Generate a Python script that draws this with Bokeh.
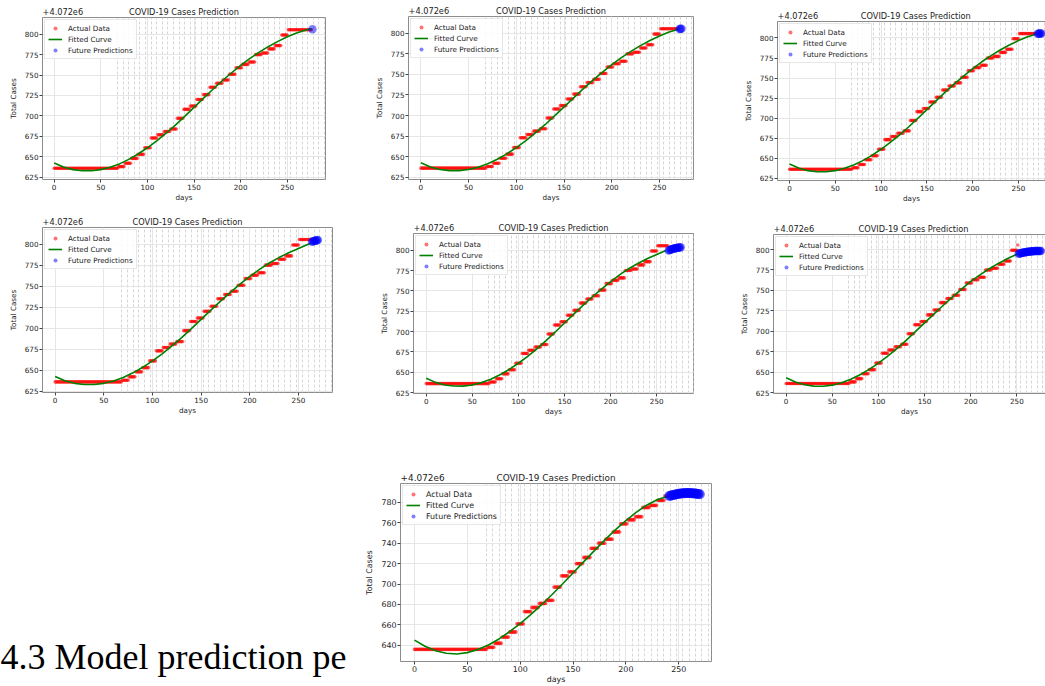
import bisect
from bokeh.plotting import figure
from bokeh.layouts import row, column
from bokeh.models import FixedTicker, Label, LinearAxis, Range1d, CustomJSTickFormatter
from bokeh.embed import file_html
from bokeh.resources import INLINE

PLOT_TITLE = "COVID-19 Cases Prediction"
X_LABEL = "days"
Y_LABEL = "Total Cases"
OFFSET_TEXT = "+4.072e6"
CAPTION = "4.3 Model prediction pe"

x_tick_days = [0, 50, 100, 150, 200, 250]
y_ticks_small = [625, 650, 675, 700, 725, 750, 775, 800]
y_ticks_large = [640, 660, 680, 700, 720, 740, 760, 780]

# total cases minus 4,072,000 (weekly reporting steps)
step_start_days = [0, 69, 76, 83, 90, 97, 104, 111, 118, 125, 132, 139, 146, 153,
                   160, 167, 174, 181, 188, 195, 202, 209, 216, 223, 230, 237, 244, 251]
step_values = [636, 638, 642, 648, 653, 661, 673, 677, 681, 684, 697, 708, 712, 720,
               726, 735, 740, 744, 751, 759, 763, 766, 775, 777, 782, 786, 799, 805.5]

# last training day of each of the seven panels
train_end_day = [276, 270, 270, 263, 262, 251, 240]

fit_days_a = [0, 10, 20, 30, 40, 50, 60, 70, 80, 90, 100, 110, 120, 130, 140, 150, 160,
              170, 180, 190, 200, 210, 220, 230, 240, 250, 260, 270, 276]
fit_vals_a = [642.5, 637.5, 634.3, 633.0, 633.0, 634.3, 637.2, 641.3, 646.8, 653.4, 661.0,
              669.5, 678.8, 688.8, 699.5, 710.5, 721.5, 732.3, 742.7, 752.5, 761.8, 770.3,
              778.0, 785.0, 791.2, 796.8, 801.5, 805.0, 806.5]

fit_days_m = [0, 10, 20, 30, 40, 50, 60, 70, 80, 90, 100, 110, 120, 130, 140, 150, 160,
              170, 180, 190, 200, 210, 220, 230, 240, 250, 260, 263]
fit_vals_m = [642.5, 637.5, 634.3, 633.0, 632.9, 634.3, 637.2, 641.3, 646.8, 653.4, 661.0,
              669.5, 678.8, 688.8, 699.5, 710.5, 721.5, 732.2, 742.5, 752.3, 761.5, 770.0,
              777.5, 784.0, 789.8, 794.8, 799.8, 801.0]

fit_days_b = [0, 10, 20, 30, 40, 50, 60, 70, 80, 90, 100, 110, 120, 130, 140, 150, 160,
              170, 180, 190, 200, 210, 220, 230, 240, 250, 251]
fit_vals_b = [643.0, 638.0, 634.5, 632.8, 632.6, 634.0, 637.0, 641.2, 646.7, 653.3, 661.0,
              669.5, 678.8, 688.8, 699.5, 710.3, 721.0, 731.5, 741.7, 751.5, 761.0, 769.0,
              776.5, 783.0, 789.0, 794.2, 794.6]

fit_days_c = [0, 10, 20, 30, 40, 50, 60, 70, 80, 90, 100, 110, 120, 130, 140, 150, 160,
              170, 180, 190, 200, 210, 220, 230, 240]
fit_vals_c = [645.0, 639.0, 634.7, 632.2, 631.5, 632.8, 635.8, 640.3, 646.2, 653.3, 661.3,
              670.0, 679.5, 689.5, 700.0, 710.8, 721.7, 732.5, 743.0, 753.0, 762.2, 770.5,
              777.5, 782.8, 786.0]

pred_days_1 = [277]
pred_vals_1 = [806.0]
pred_days_2 = [271, 272, 273]
pred_vals_2 = [805.3, 805.4, 805.5]
pred_days_3 = [271, 272, 273, 274, 275]
pred_vals_3 = [805.3, 805.4, 805.5, 805.6, 805.6]
pred_days_4 = [264, 265, 266, 267, 268, 269, 270]
pred_vals_4 = [802.8, 803.3, 803.7, 804.1, 804.4, 804.7, 804.9]
pred_days_5 = [263, 264, 265, 266, 267, 268, 269, 270, 271, 272, 273, 274, 275, 276]
pred_vals_5 = [799.8, 800.3, 800.7, 801.1, 801.5, 801.8, 802.1, 802.4, 802.7, 802.9,
               803.1, 803.3, 803.5, 803.6]
pred_days_6 = [252, 253, 254, 255, 256, 257, 258, 259, 260, 261, 262, 263, 264, 265, 266,
               267, 268, 269, 270, 271, 272, 273, 274, 275, 276]
pred_vals_6 = [794.9, 795.2, 795.5, 795.8, 796.0, 796.3, 796.5, 796.7, 796.9, 797.1, 797.3,
               797.4, 797.6, 797.7, 797.8, 797.9, 798.0, 798.1, 798.1, 798.2, 798.2, 798.2,
               798.3, 798.3, 798.3]
pred_days_7 = [241, 242, 243, 244, 245, 246, 247, 248, 249, 250, 251, 252, 253, 254, 255,
               256, 257, 258, 259, 260, 261, 262, 263, 264, 265, 266, 267, 268, 269, 270]
pred_vals_7 = [786.2, 786.5, 786.8, 787.0, 787.3, 787.5, 787.8, 788.0, 788.2, 788.4, 788.5,
               788.7, 788.8, 788.9, 789.0, 789.0, 789.1, 789.1, 789.1, 789.1, 789.0, 789.0,
               788.9, 788.8, 788.7, 788.6, 788.4, 788.3, 788.1, 787.9]

# dashed vertical guide lines (style)
minor_grid_days = list(range(68, 292, 6))

FRAME = "#8c8c8c"
TXT = "#222222"


def actual_series(end_day):
    days = list(range(0, end_day + 1))
    vals = [step_values[bisect.bisect_right(step_start_days, d) - 1] for d in days]
    return days, vals


def truncate(days, vals, end_day):
    pairs = [(d, v) for d, v in zip(days, vals) if d <= end_day]
    return [q[0] for q in pairs], [q[1] for q in pairs]


def make_fig(width, height, mbl, mbr, mbt, mbb, xr, full_x_end, yr, yticks, cut, big,
             end_day, fit_days, fit_vals, pdays, pvals):
    fs_head = "8.9px" if big else "8.2px"
    head_px = 8.9 if big else 8.2
    fs = "7.9px" if big else "7.2px"
    p = figure(width=width, height=height, output_backend="svg", toolbar_location=None,
               x_range=Range1d(*xr), y_range=Range1d(*yr), title=None, frame_align=False,
               min_border_left=mbl, min_border_right=mbr,
               min_border_top=mbt, min_border_bottom=mbb)
    p.background_fill_color = "white"
    p.border_fill_color = "white"

    p.xaxis.ticker = FixedTicker(ticks=x_tick_days, minor_ticks=minor_grid_days)
    p.yaxis.ticker = FixedTicker(ticks=yticks)
    p.xaxis.axis_label = X_LABEL
    p.yaxis.axis_label = Y_LABEL
    for ax in (p.xaxis, p.yaxis):
        ax.axis_label_text_font = "DejaVu Sans"
        ax.axis_label_text_font_size = fs
        ax.axis_label_text_font_style = "normal"
        ax.axis_label_text_color = TXT
        ax.major_label_text_font = "DejaVu Sans"
        ax.major_label_text_font_size = fs
        ax.major_label_text_color = TXT
        ax.major_tick_out = 3
        ax.major_tick_in = 0
        ax.major_tick_line_color = "#444444"
        ax.minor_tick_line_color = None
    p.xaxis.major_label_standoff = 0
    p.xaxis.axis_label_standoff = 0
    p.yaxis.major_label_standoff = 1
    p.yaxis.axis_label_standoff = 4

    p.xgrid.grid_line_color = "#e6e6e6"
    p.ygrid.grid_line_color = "#e6e6e6"
    p.xgrid.minor_grid_line_color = "#d6d6d6"
    p.xgrid.minor_grid_line_dash = "3 2"

    if cut:
        p.outline_line_color = None
        p.xaxis.axis_line_color = FRAME
        p.yaxis.axis_line_color = FRAME
        top_line = FRAME
    else:
        p.outline_line_color = FRAME
        p.xaxis.axis_line_color = None
        p.yaxis.axis_line_color = None
        top_line = None

    # heading row above the frame: offset text at the left, title centred
    frame_w = width - mbl - mbr
    px_per_day = frame_w / (xr[1] - xr[0])
    off_x = xr[0] + (2.48 * head_px) / px_per_day
    title_x = (xr[0] + full_x_end) / 2.0
    head_ticks = [off_x, title_x]
    head_labels = [OFFSET_TEXT, PLOT_TITLE]
    fmt = CustomJSTickFormatter(args=dict(hpos=head_ticks, htxt=head_labels), code="""
        let best = 0;
        for (let i = 0; i < hpos.length; i++) {
            if (Math.abs(hpos[i] - tick) < Math.abs(hpos[best] - tick)) { best = i; }
        }
        return htxt[best];
    """)
    top = LinearAxis(ticker=FixedTicker(ticks=head_ticks), formatter=fmt, axis_label=None,
                     axis_label_standoff=0,
                     axis_line_color=top_line, major_tick_line_color=None,
                     minor_tick_line_color=None, major_tick_out=0, major_tick_in=0,
                     major_label_standoff=1, major_label_text_font="DejaVu Sans",
                     major_label_text_font_size=fs_head, major_label_text_color=TXT)
    p.add_layout(top, "above")

    ad, av = actual_series(end_day)
    p.scatter(ad, av, size=3.8 if big else 3.6, marker="circle", fill_color="red",
              line_color=None, fill_alpha=0.55, legend_label="Actual Data")
    fd, fv = truncate(fit_days, fit_vals, end_day)
    p.line(fd, fv, line_color="green", line_width=1.6, legend_label="Fitted Curve")
    p.scatter(pdays, pvals, size=10 if big else 8.5, marker="circle", fill_color="blue",
              line_color=None, fill_alpha=0.5, legend_label="Future Predictions")

    lg = p.legend[0]
    lg.location = "top_left"
    lg.margin = 2
    lg.padding = 3
    lg.spacing = 1
    lg.label_height = 10
    lg.glyph_height = 10
    lg.glyph_width = 14
    lg.label_standoff = 6
    lg.label_text_font = "DejaVu Sans"
    lg.label_text_font_size = fs
    lg.label_text_color = TXT
    lg.border_line_color = "#d0d0d0"
    lg.background_fill_alpha = 0.85
    return p


f1 = make_fig(368, 206, 42, 43, 17, 27, (-12.5, 291.0), 291.0, (622.2, 820.4), y_ticks_small,
              False, False, train_end_day[0], fit_days_a, fit_vals_a, pred_days_1, pred_vals_1)
f2 = make_fig(368, 206, 40, 43, 16, 27, (-13.0, 285.6), 285.6, (622.2, 820.4), y_ticks_small,
              False, False, train_end_day[1], fit_days_a, fit_vals_a, pred_days_2, pred_vals_2)
f3 = make_fig(309, 206, 41, 0, 21, 26, (-13.1, 279.5), 288.7, (622.0, 820.6), y_ticks_small,
              True, False, train_end_day[2], fit_days_a, fit_vals_a, pred_days_3, pred_vals_3)
f4 = make_fig(368, 212, 42, 36, 21, 26, (-13.0, 285.0), 285.0, (623.4, 819.8), y_ticks_small,
              False, False, train_end_day[3], fit_days_m, fit_vals_m, pred_days_4, pred_vals_4)
f5 = make_fig(368, 212, 45, 43, 27, 25, (-13.8, 289.9), 289.9, (623.8, 820.6), y_ticks_small,
              False, False, train_end_day[4], fit_days_m, fit_vals_m, pred_days_5, pred_vals_5)
f6 = make_fig(309, 212, 37, 0, 28, 25, (-13.7, 281.0), 289.8, (623.8, 818.4), y_ticks_small,
              True, False, train_end_day[5], fit_days_b, fit_vals_b, pred_days_6, pred_vals_6)
f7 = make_fig(381, 268, 50, 20, 65, 24, (-13.2, 281.0), 281.0, (624.1, 798.5), y_ticks_large,
              False, True, train_end_day[6], fit_days_c, fit_vals_c, pred_days_7, pred_vals_7)

# caption of the surrounding document, partly hidden behind the last chart
ft = figure(width=350, height=268, output_backend="svg", toolbar_location=None,
            x_axis_type=None, y_axis_type=None, title=None, frame_align=False,
            min_border_left=0, min_border_right=0, min_border_top=0, min_border_bottom=0,
            x_range=Range1d(0, 1), y_range=Range1d(0, 1))
ft.grid.visible = False
ft.outline_line_color = None
ft.background_fill_color = "white"
ft.border_fill_color = "white"
ft.add_layout(Label(x=0, y=30, x_units="screen", y_units="screen", text=CAPTION,
                    text_font="Liberation Serif", text_font_size="36px",
                    text_color="black", text_baseline="alphabetic"))

layout = column(row(f1, f2, f3), row(f4, f5, f6), row(ft, f7))

open("out.html", "w").write(file_html(layout, INLINE))
